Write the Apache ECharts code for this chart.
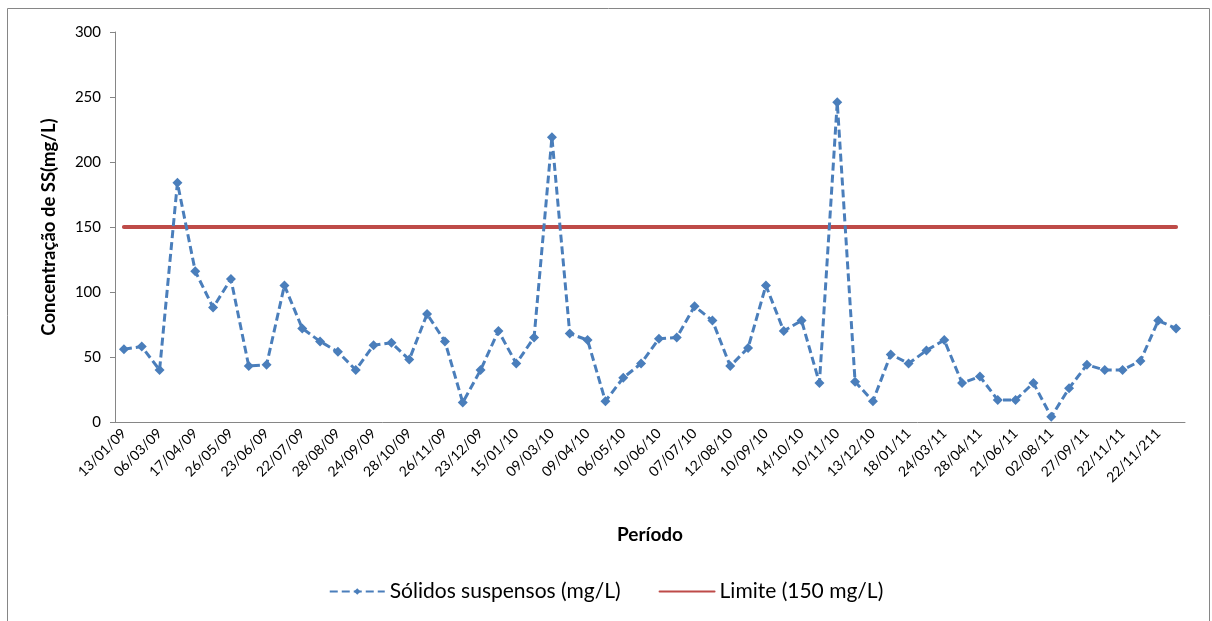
<!DOCTYPE html>
<html>
<head>
<meta charset="utf-8">
<script src="https://cdn.jsdelivr.net/npm/echarts@6/dist/echarts.min.js"></script>
<style>
  html, body { margin: 0; padding: 0; background: #fff; }
  #main { width: 1212px; height: 621px; }
</style>
</head>
<body>
<div id="main"></div>
<script>
// rótulos visíveis do eixo X (um a cada duas coletas)
const tickLabels = ['13/01/09', '06/03/09', '17/04/09', '26/05/09', '23/06/09', '22/07/09',
  '28/08/09', '24/09/09', '28/10/09', '26/11/09', '23/12/09', '15/01/10', '09/03/10',
  '09/04/10', '06/05/10', '10/06/10', '07/07/10', '12/08/10', '10/09/10', '14/10/10',
  '10/11/10', '13/12/10', '18/01/11', '24/03/11', '28/04/11', '21/06/11', '02/08/11',
  '27/09/11', '22/11/11', '22/11/211'];

// sólidos suspensos (mg/L), 60 coletas
const solidos = [
  56, 58, 40, 184, 116, 88, 110, 43, 44, 105,
  72, 62, 54, 40, 59, 61, 48, 83, 62, 15,
  40, 70, 45, 65, 219, 68, 63, 16, 34, 45,
  64, 65, 89, 78, 43, 57, 105, 70, 78, 30,
  246, 31, 16, 52, 45, 55, 63, 30, 35, 17,
  17, 30, 4, 26, 44, 40, 40, 47, 78, 72
];

// limite (150 mg/L)
const limite = [
  150, 150, 150, 150, 150, 150, 150, 150, 150, 150,
  150, 150, 150, 150, 150, 150, 150, 150, 150, 150,
  150, 150, 150, 150, 150, 150, 150, 150, 150, 150,
  150, 150, 150, 150, 150, 150, 150, 150, 150, 150,
  150, 150, 150, 150, 150, 150, 150, 150, 150, 150,
  150, 150, 150, 150, 150, 150, 150, 150, 150, 150
];

const yTicks = [0, 50, 100, 150, 200, 250, 300];

// coletas intermediárias não têm data legível no gráfico
const categories = [];
tickLabels.forEach(function (d) { categories.push(d); categories.push(''); });

const fonte = 'Lato, "Open Sans", sans-serif';
const chart = echarts.init(document.getElementById('main'));

chart.setOption({
  animation: false,
  textStyle: { fontFamily: fonte },
  graphic: [{
    type: 'rect',
    shape: { x: 7.5, y: 8.5, width: 1202, height: 620 },
    style: { fill: 'none', stroke: '#868686', lineWidth: 1 },
    silent: true
  }],
  grid: { left: 115, right: 27, top: 32, bottom: 199 },
  legend: {
    bottom: 14,
    left: 'center',
    itemWidth: 55,
    itemHeight: 8,
    itemGap: 38,
    textStyle: { fontSize: 21, color: '#000', fontFamily: fonte },
    data: [
      { name: 'Sólidos suspensos (mg/L)' },
      { name: 'Limite (150 mg/L)', itemStyle: { opacity: 0 } }
    ]
  },
  xAxis: {
    type: 'category',
    data: categories,
    boundaryGap: true,
    name: 'Período',
    nameLocation: 'middle',
    nameGap: 103,
    nameTextStyle: { fontSize: 19, fontWeight: 'bold', color: '#000' },
    axisLine: { lineStyle: { color: '#868686' } },
    axisTick: { interval: 0, length: 5, lineStyle: { color: '#868686' } },
    axisLabel: { interval: 1, rotate: 45, fontSize: 14, color: '#000', margin: 9 }
  },
  yAxis: {
    type: 'value',
    min: yTicks[0],
    max: yTicks[yTicks.length - 1],
    interval: 50,
    name: 'Concentração de SS(mg/L)',
    nameLocation: 'middle',
    nameGap: 56,
    nameTextStyle: { fontSize: 18.5, fontWeight: 'bold', color: '#000' },
    axisLine: { show: true, lineStyle: { color: '#868686' } },
    axisTick: { show: true, length: 5, lineStyle: { color: '#868686' } },
    axisLabel: { fontSize: 15, color: '#000', margin: 14 },
    splitLine: { show: false }
  },
  series: [
    {
      name: 'Sólidos suspensos (mg/L)',
      type: 'line',
      data: solidos,
      symbol: 'diamond',
      symbolSize: 10,
      showAllSymbol: true,
      lineStyle: { color: '#4A7EBB', width: 3, type: [8, 4] },
      itemStyle: { color: '#4A7EBB' },
      z: 3
    },
    {
      name: 'Limite (150 mg/L)',
      type: 'line',
      data: limite,
      symbol: 'none',
      lineStyle: { color: '#BE4B48', width: 4, cap: 'round' },
      itemStyle: { color: '#BE4B48' },
      z: 2
    }
  ]
});
</script>
</body>
</html>
